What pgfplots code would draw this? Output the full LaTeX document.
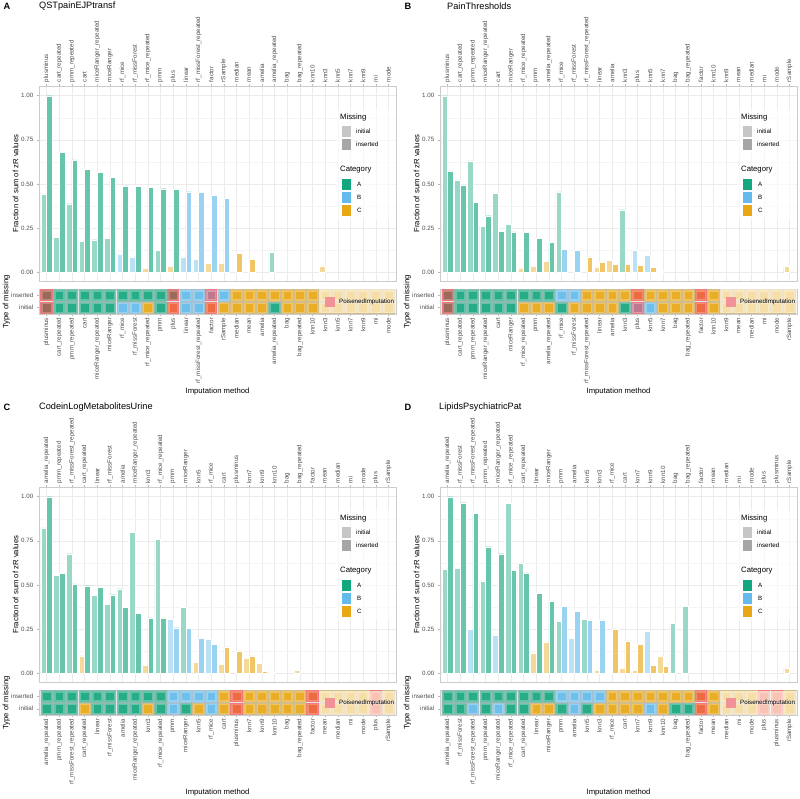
\documentclass[border=0pt]{standalone}
\usepackage{fontspec}
\setmainfont{Liberation Sans}
\usepackage{pgfplots}
\usepackage{pgfplotstable}
\pgfplotsset{compat=1.18}

\definecolor{cA}{HTML}{009E73}
\definecolor{cB}{HTML}{56B4E9}
\definecolor{cC}{HTML}{E69F00}
\definecolor{tickgray}{HTML}{4D4D4D}
\definecolor{PGin}{HTML}{9C6A5C}\definecolor{PGout}{HTML}{C08878}
\definecolor{PBin}{HTML}{C07890}\definecolor{PBout}{HTML}{D89AAA}
\definecolor{POin}{HTML}{EE6A42}\definecolor{POout}{HTML}{F38F6A}
\definecolor{Pbd}{HTML}{F07A80}
\definecolor{Pkey}{HTML}{F29196}

\newcommand{\ftick}{\fontsize{6.2pt}{7pt}\selectfont}
\newcommand{\faxis}{\fontsize{7.7pt}{9pt}\selectfont}
\newcommand{\fmain}{\fontsize{9.2pt}{11pt}\selectfont}

\pgfplotsset{
  base/.style={scale only axis, width=357pt, xmin=-0.6, xmax=27.6, xtick={0,...,27},
    anchor=north west,
    axis line style={draw=gray!40, line width=0.9pt},
    tick style={draw=gray!55, line width=0.5pt}, major tick length=2.2pt, tick align=outside,
    ticklabel style={font=\ftick, text=tickgray},
    /pgf/number format/assume math mode=true},
  barax/.style={base, height=195pt, ymin=-0.05, ymax=1.055,
    ytick={0,0.25,0.5,0.75,1}, minor ytick={0.125,0.375,0.625,0.875}, minor tick length=0pt,
    xmajorgrids, ymajorgrids, yminorgrids,
    major grid style={draw=gray!16, line width=0.5pt},
    minor grid style={draw=gray!9, line width=0.3pt},
    xtick pos=right, ytick pos=left, xticklabel pos=right,
    xticklabel style={rotate=90, anchor=west, inner sep=1.5pt},
    yticklabel style={/pgf/number format/.cd, fixed, fixed zerofill, precision=2}},
  stripax/.style={base, height=25pt, ymin=-0.5, ymax=1.5, ytick={0,1},
    yticklabels={initial,inserted}, xtick pos=left, ytick pos=left, xticklabel pos=left,
    xticklabel style={rotate=90, anchor=east, inner sep=1.5pt}, clip=false,
    axis background/.style={fill=gray!20}},
  bini/.style={ybar, bar width=0.45, bar shift=-0.225, draw=white, line width=0.3pt},
  bins/.style={ybar, bar width=0.45, bar shift=0.225, draw=white, line width=0.3pt},
  tileOut/.style={only marks, scatter, point meta=explicit symbolic, scatter/classes={
    G={mark=square*, mark size=5.8pt, fill=cA!62!white, draw=cA!50!gray!60, line width=0.5pt},
    B={mark=square*, mark size=5.8pt, fill=cB!62!white, draw=cB!50!gray!60, line width=0.5pt},
    O={mark=square*, mark size=5.8pt, fill=cC!62!white, draw=cC!50!gray!60, line width=0.5pt},
    PG={mark=square*, mark size=5.6pt, fill=PGout, draw=Pbd, line width=1pt},
    PB={mark=square*, mark size=5.6pt, fill=PBout, draw=Pbd, line width=1pt},
    PO={mark=square*, mark size=5.6pt, fill=POout, draw=Pbd, line width=1pt}}},
  tileIn/.style={only marks, scatter, point meta=explicit symbolic, scatter/classes={
    G={mark=square*, mark size=3.4pt, fill=cA!85!white, draw=cA!85!white},
    B={mark=square*, mark size=3.4pt, fill=cB!85!white, draw=cB!85!white},
    O={mark=square*, mark size=3.4pt, fill=cC!85!white, draw=cC!85!white},
    PG={mark=square*, mark size=3.4pt, fill=PGin, draw=PGin},
    PB={mark=square*, mark size=3.4pt, fill=PBin, draw=PBin},
    PO={mark=square*, mark size=3.4pt, fill=POin, draw=POin}}},
  labsA/.style={xticklabels={plusminus, cart\_repeated, pmm\_repeated, cart, miceRanger\_repeated, miceRanger, rf\_mice, rf\_missForest, rf\_mice\_repeated, pmm, plus, linear, rf\_missForest\_repeated, factor, rSample, median, mean, amelia, amelia\_repeated, bag, bag\_repeated, knn10, knn3, knn5, knn7, knn9, mi, mode}},
  labsB/.style={xticklabels={plusminus, cart\_repeated, pmm\_repeated, miceRanger\_repeated, cart, miceRanger, rf\_mice\_repeated, pmm, amelia\_repeated, rf\_mice, rf\_missForest, rf\_missForest\_repeated, linear, amelia, knn3, plus, knn5, knn7, bag, bag\_repeated, factor, knn10, knn9, mean, median, mi, mode, rSample}},
  labsC/.style={xticklabels={amelia\_repeated, pmm\_repeated, rf\_missForest\_repeated, cart\_repeated, linear, rf\_missForest, amelia, miceRanger\_repeated, knn3, rf\_mice\_repeated, pmm, miceRanger, knn5, rf\_mice, cart, plusminus, knn7, knn9, knn10, bag, bag\_repeated, factor, mean, median, mi, mode, plus, rSample}},
  labsD/.style={xticklabels={amelia\_repeated, rf\_missForest, rf\_missForest\_repeated, pmm\_repeated, miceRanger\_repeated, rf\_mice\_repeated, cart\_repeated, linear, miceRanger, pmm, amelia, knn5, knn3, rf\_mice, cart, knn7, knn9, knn10, bag, bag\_repeated, factor, mean, median, mi, mode, plus, plusminus, rSample}},
}

\pgfplotstableread{
x ins ini
0 PG PG
1 G G
2 G G
3 G G
4 G G
5 G G
6 G B
7 G B
8 G O
9 G G
10 PG PO
11 B B
12 B B
13 PB PO
14 B O
15 O O
16 O O
17 O O
18 O G
19 O O
20 O O
21 O O
22 O O
23 O O
24 O O
25 O O
26 O O
27 O O
}\tilesA

\pgfplotstableread{
x ins ini
0 PG PG
1 G G
2 G G
3 G G
4 G G
5 G G
6 G O
7 G O
8 G O
9 B G
10 B O
11 O O
12 O O
13 O O
14 O G
15 PO PB
16 O B
17 O O
18 O O
19 O O
20 PO PO
21 O O
22 O O
23 O O
24 O O
25 O O
26 O O
27 O O
}\tilesB

\pgfplotstableread{
x ins ini
0 G G
1 G G
2 G G
3 G O
4 G G
5 G G
6 G G
7 G G
8 G O
9 G G
10 B B
11 B G
12 B O
13 B B
14 O O
15 PO PO
16 O O
17 O O
18 O O
19 O O
20 O O
21 PO PO
22 O O
23 O O
24 O O
25 O O
26 PO PO
27 O O
}\tilesC

\pgfplotstableread{
x ins ini
0 G G
1 G G
2 G B
3 G G
4 G B
5 G G
6 G G
7 G O
8 G O
9 B G
10 B B
11 B G
12 B O
13 O O
14 O O
15 O O
16 O B
17 O O
18 O G
19 O G
20 PO PO
21 O O
22 O O
23 O O
24 O O
25 PO PO
26 PO PO
27 O O
}\tilesD

\newcommand{\tiles}[1]{%
  \addplot[tileOut] table[x=x, y expr=1, meta=ins] {#1};
  \addplot[tileOut] table[x=x, y expr=0, meta=ini] {#1};
  \addplot[tileIn] table[x=x, y expr=1, meta=ins] {#1};
  \addplot[tileIn] table[x=x, y expr=0, meta=ini] {#1};
}

\newcommand{\panelframe}[5]{%
\begin{scope}[x=1pt, y=-1pt, shift={(#1,#2)}]
  \node[anchor=west, inner sep=0pt, font=\fmain\bfseries] at (3.5,6.5) {#3};
  \node[anchor=west, inner sep=0pt, font=\fmain] at (#5,6.5) {#4};
  \node[rotate=90, inner sep=0pt, font=\faxis] at (15.5,183.5) {Fraction of sum of zR values};
  \node[rotate=90, inner sep=0pt, font=\faxis] at (6.5,302) {Type of missing};
  \node[inner sep=0pt, font=\faxis] at (217.5,392) {Imputation method};
  % legend in bar panel
  \fill[white, fill opacity=0.6] (336,109) rectangle (395,220);
  \node[anchor=west, inner sep=0pt, font=\faxis] at (340,118) {Missing};
  \filldraw[fill=gray!45, draw=white, line width=0.5pt] (341,125) rectangle (351,137);
  \filldraw[fill=gray!70, draw=white, line width=0.5pt] (341,138) rectangle (351,150);
  \node[anchor=west, inner sep=0pt, font=\ftick] at (356,131) {initial};
  \node[anchor=west, inner sep=0pt, font=\ftick] at (356,144) {inserted};
  \node[anchor=west, inner sep=0pt, font=\faxis] at (340,170) {Category};
  \filldraw[fill=cA!92!white, draw=white, line width=0.5pt] (341,178) rectangle (351,190);
  \filldraw[fill=cB!92!white, draw=white, line width=0.5pt] (341,191) rectangle (351,203);
  \filldraw[fill=cC!92!white, draw=white, line width=0.5pt] (341,204) rectangle (351,216);
  \node[anchor=west, inner sep=0pt, font=\ftick] at (357,184) {A};
  \node[anchor=west, inner sep=0pt, font=\ftick] at (357,197) {B};
  \node[anchor=west, inner sep=0pt, font=\ftick] at (357,210) {C};
  % legend in tile strip
  \fill[white, fill opacity=0.6] (319,289.5) rectangle (395.5,313.5);
  \fill[Pkey] (325,297) rectangle (335,307);
  \node[anchor=west, inner sep=0pt, font=\ftick] at (339,302) {PoisenedImputation};
\end{scope}}

\begin{document}
\begin{tikzpicture}
\useasboundingbox (0,0) rectangle (800pt,-799pt);

% ===== Panel A =====
\begin{axis}[barax, at={(39pt,-86pt)}, labsA]
\addplot[bini, fill=cA!40!white] coordinates {(0,0.443) (1,0.197) (2,0.388) (3,0.174) (4,0.184) (5,0.193) (9,0.125) (18,0.112)};
\addplot[bini, fill=cB!40!white] coordinates {(6,0.102) (7,0.087) (11,0.087) (12,0.074)};
\addplot[bini, fill=cC!40!white] coordinates {(8,0.023) (10,0.034) (13,0.051) (14,0.053) (22,0.036)};
\addplot[bins, fill=cA!60!white] coordinates {(0,1.0) (1,0.68) (2,0.636) (3,0.581) (4,0.564) (5,0.538) (6,0.489) (7,0.485) (8,0.481) (9,0.473) (10,0.472)};
\addplot[bins, fill=cB!60!white] coordinates {(11,0.456) (12,0.453) (13,0.436) (14,0.417)};
\addplot[bins, fill=cC!60!white] coordinates {(15,0.108) (16,0.072)};
\end{axis}
\begin{axis}[stripax, at={(39pt,-289pt)}, labsA]
\tiles{\tilesA}
\end{axis}
\panelframe{0}{0}{A}{QSTpainEJPtransf}{39}

% ===== Panel B =====
\begin{axis}[barax, at={(440pt,-86pt)}, labsB]
\addplot[bini, fill=cA!40!white] coordinates {(0,1.0) (1,0.523) (2,0.631) (3,0.259) (4,0.449) (5,0.271) (9,0.455) (14,0.354)};
\addplot[bini, fill=cB!40!white] coordinates {(15,0.125) (16,0.098)};
\addplot[bini, fill=cC!40!white] coordinates {(6,0.025) (7,0.034) (8,0.0625) (12,0.030) (13,0.066) (17,0.005) (27,0.032)};
\addplot[bins, fill=cA!60!white] coordinates {(0,0.574) (1,0.492) (2,0.396) (3,0.320) (4,0.233) (5,0.229) (6,0.225) (7,0.191) (8,0.169)};
\addplot[bins, fill=cB!60!white] coordinates {(9,0.131) (10,0.123)};
\addplot[bins, fill=cC!60!white] coordinates {(11,0.087) (12,0.059) (13,0.045) (14,0.044) (15,0.040) (16,0.028)};
\end{axis}
\begin{axis}[stripax, at={(440pt,-289pt)}, labsB]
\tiles{\tilesB}
\end{axis}
\panelframe{401}{0}{B}{PainThresholds}{46}

% ===== Panel C =====
\begin{axis}[barax, at={(39pt,-487pt)}, labsC]
\addplot[bini, fill=cA!40!white] coordinates {(0,0.823) (1,0.555) (2,0.677) (4,0.440) (5,0.392) (6,0.479) (7,0.798) (9,0.758) (11,0.374)};
\addplot[bini, fill=cB!40!white] coordinates {(10,0.306) (13,0.194)};
\addplot[bini, fill=cC!40!white] coordinates {(3,0.098) (8,0.045) (12,0.060) (14,0.051) (16,0.085) (17,0.055) (18,0.004) (20,0.017)};
\addplot[bins, fill=cA!60!white] coordinates {(0,1.0) (1,0.566) (2,0.506) (3,0.496) (4,0.485) (5,0.445) (6,0.374) (7,0.338) (8,0.313) (9,0.313)};
\addplot[bins, fill=cB!60!white] coordinates {(10,0.258) (11,0.255) (12,0.198) (13,0.164)};
\addplot[bins, fill=cC!60!white] coordinates {(14,0.149) (15,0.126) (16,0.098) (17,0.009)};
\end{axis}
\begin{axis}[stripax, at={(39pt,-690pt)}, labsC]
\tiles{\tilesC}
\end{axis}
\panelframe{0}{401}{C}{CodeinLogMetabolitesUrine}{39}

% ===== Panel D =====
\begin{axis}[barax, at={(440pt,-487pt)}, labsD]
\addplot[bini, fill=cA!40!white] coordinates {(0,0.591) (1,0.594) (3,0.523) (5,0.962) (6,0.625) (9,0.296) (11,0.304) (18,0.281) (19,0.379)};
\addplot[bini, fill=cB!40!white] coordinates {(2,0.249) (4,0.217) (10,0.198) (16,0.238)};
\addplot[bini, fill=cC!40!white] coordinates {(7,0.115) (8,0.177) (12,0.019) (13,0.004) (14,0.028) (15,0.017) (17,0.098) (27,0.030)};
\addplot[bins, fill=cA!60!white] coordinates {(0,1.0) (1,0.966) (2,0.906) (3,0.717) (4,0.677) (5,0.583) (6,0.568) (7,0.453) (8,0.409)};
\addplot[bins, fill=cB!60!white] coordinates {(9,0.379) (10,0.351) (11,0.302) (12,0.302)};
\addplot[bins, fill=cC!60!white] coordinates {(13,0.251) (14,0.183) (15,0.164) (16,0.043) (17,0.038)};
\end{axis}
\begin{axis}[stripax, at={(440pt,-690pt)}, labsD]
\tiles{\tilesD}
\end{axis}
\panelframe{401}{401}{D}{LipidsPsychiatricPat}{38}

\end{tikzpicture}
\end{document}
